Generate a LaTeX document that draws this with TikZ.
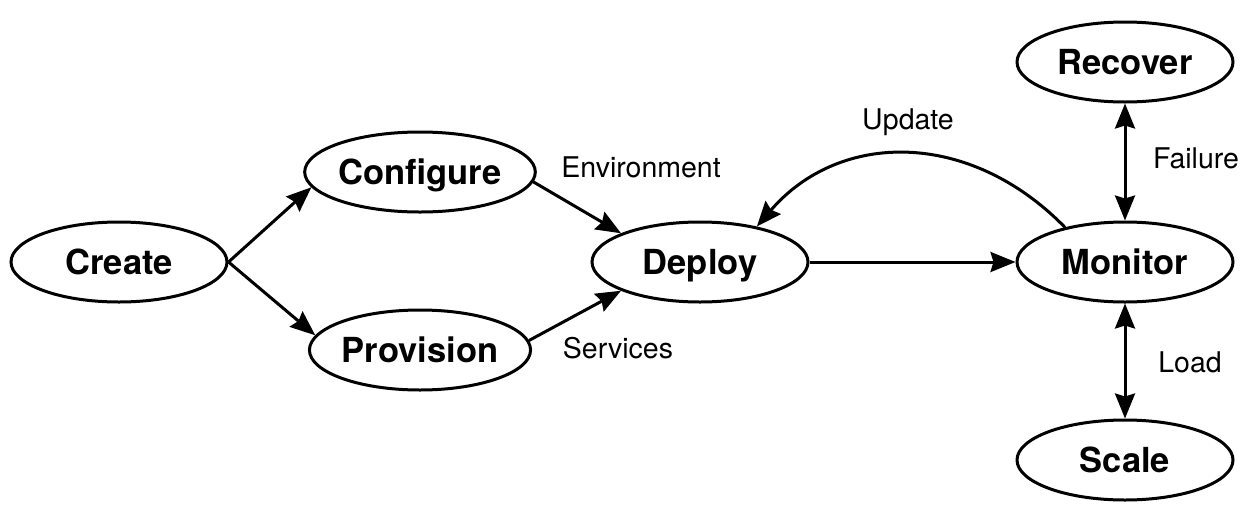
\documentclass[tikz,border=0pt]{standalone}
\usepackage{fontspec}
\setmainfont{TeX Gyre Heros}
\usetikzlibrary{shapes.geometric,arrows.meta}

\tikzset{
  stage/.style={ellipse, draw, line width=3pt, minimum width=216pt,
    minimum height=80pt, inner sep=0pt, text height=25pt, text depth=0pt,
    font=\fontsize{34.5}{40}\selectfont\bfseries},
  head/.tip={Stealth[length=25pt,width=20pt,inset=3pt]},
  flow/.style={line width=3pt, -head},
  twoway/.style={line width=3pt, head-head},
  tag/.style={font=\fontsize{28.5}{34}\selectfont, inner sep=0pt}
}

\begin{document}
\begin{tikzpicture}[x=1pt,y=-1pt]
  \useasboundingbox (0,0) rectangle (1247,512);

  % stages of the lifecycle
  \node[stage] (create)    at (119,262)  {Create};
  \node[stage] (configure) at (420,172)  {Configure};
  \node[stage] (provision) at (420,350)  {Provision};
  \node[stage] (deploy)    at (700,262)  {Deploy};
  \node[stage] (monitor)   at (1125,262) {Monitor};
  \node[stage] (recover)   at (1125,62)  {Recover};
  \node[stage] (scale)     at (1125,460) {Scale};

  % transitions
  \draw[flow] (create.east) -- (configure.188);
  \draw[flow] (create.east) -- (provision.172);
  \draw[flow] (configure.-5) -- (deploy.160);
  \draw[flow] (provision.5) -- (deploy.200);
  \draw[flow] (deploy.east) -- (monitor.west);
  \draw[flow] (monitor.150) .. controls (970,130) and (840,130) .. (deploy.32);
  \draw[twoway] (recover.south) -- (monitor.north);
  \draw[twoway] (monitor.south) -- (scale.north);

  % transition labels
  \node[tag] (lenv)  at (641,167)  {Environment};
  \node[tag] (lsrv)  at (618,348)  {Services};
  \node[tag] (lupd)  at (908,122)  {Update};
  \node[tag] (lfail) at (1196,158) {Failure};
  \node[tag] (lload) at (1190,362) {Load};
\end{tikzpicture}
\end{document}
